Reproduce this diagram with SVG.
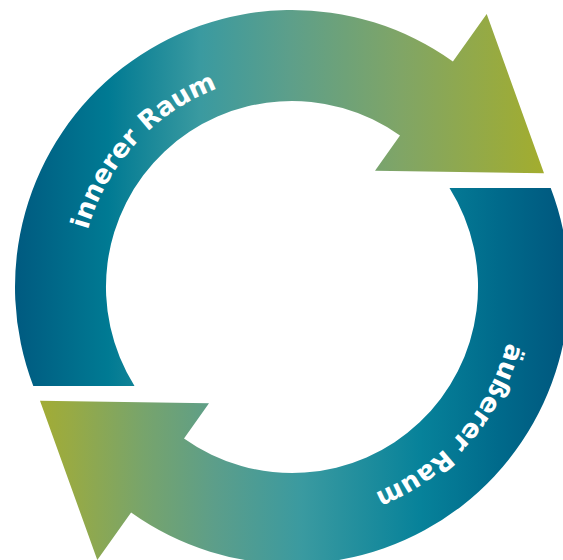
<svg xmlns="http://www.w3.org/2000/svg" xmlns:xlink="http://www.w3.org/1999/xlink" width="563" height="560" viewBox="0 0 563 560">
  <style>
    .lbl { font-family: "DejaVu Sans", Verdana, sans-serif; font-weight: bold; font-size: 26px; fill: #ffffff; }
  </style>
  <defs>
    <linearGradient id="gTop" gradientUnits="userSpaceOnUse" x1="15" y1="0" x2="544" y2="0">
      <stop offset="0" stop-color="#005a80"/>
      <stop offset="0.176" stop-color="#007a93"/>
      <stop offset="0.35" stop-color="#3a9aa0"/>
      <stop offset="0.52" stop-color="#5d9f8a"/>
      <stop offset="0.73" stop-color="#80a566"/>
      <stop offset="1" stop-color="#a3ad2e"/>
    </linearGradient>
    <linearGradient id="gBottom" gradientUnits="userSpaceOnUse" x1="563" y1="0" x2="40" y2="0">
      <stop offset="0" stop-color="#00587f"/>
      <stop offset="0.122" stop-color="#006a8b"/>
      <stop offset="0.273" stop-color="#07829a"/>
      <stop offset="0.499" stop-color="#3a9aa0"/>
      <stop offset="0.665" stop-color="#5c9e8a"/>
      <stop offset="0.801" stop-color="#77a46c"/>
      <stop offset="0.939" stop-color="#97aa45"/>
      <stop offset="1" stop-color="#a2ac35"/>
    </linearGradient>
    <path id="tpTop" d="M 80 287 A 212 212 0 0 1 398 103.4"/>
    <path id="tpBottom" d="M 514 287 A 222 222 0 0 1 181 479.3"/>
  </defs>
  <g id="connectors">
    <g id="arrow-inner">
      <path d="M 33.3 386 A 277 277 0 0 1 452.9 61.5 L 486.7 14 L 544 173.3 L 375 170.7 L 400 135.6 A 186 186 0 0 0 134.5 386 Z" fill="url(#gTop)"/>
      <text class="lbl" text-anchor="middle"><textPath xlink:href="#tpTop" href="#tpTop" startOffset="157.3">innerer Raum</textPath></text>
    </g>
    <g id="arrow-outer">
      <path d="M 550.7 188 A 277 277 0 0 1 131.1 512.5 L 97.3 560 L 40 400.7 L 209 403.3 L 184 438.4 A 186 186 0 0 0 449.5 188 Z" fill="url(#gBottom)"/>
      <text class="lbl" text-anchor="middle"><textPath xlink:href="#tpBottom" href="#tpBottom" startOffset="160">äußerer Raum</textPath></text>
    </g>
  </g>
</svg>
